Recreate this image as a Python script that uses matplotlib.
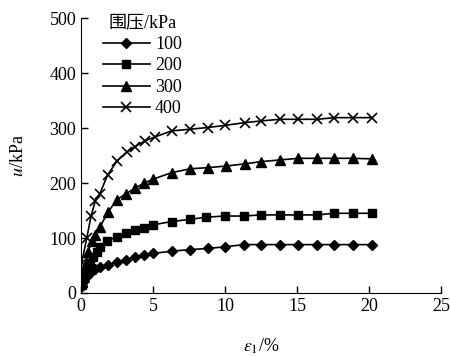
import matplotlib
matplotlib.use('Agg')
import matplotlib.pyplot as plt

plt.rcParams['font.family'] = ['Liberation Serif', 'Noto Sans CJK SC']
plt.rcParams['mathtext.fontset'] = 'stix'

# 围压 100 kPa
x100 = [0.05, 0.2, 0.4, 0.65, 0.97, 1.3, 1.9, 2.5, 3.1, 3.75, 4.4, 5.0, 6.3, 7.6,
        8.8, 10.0, 11.3, 12.5, 13.8, 15.1, 16.4, 17.6, 18.9, 20.2]
y100 = [13, 22, 30, 37, 43, 47, 51, 57, 60, 66, 69, 72, 76, 79,
        81, 84, 88, 88, 88, 88, 88, 88, 88, 88]
# 围压 200 kPa
x200 = [0.05, 0.2, 0.4, 0.6, 0.85, 1.1, 1.35, 1.8, 2.5, 3.1, 3.75, 4.4, 5.0, 6.3,
        7.6, 8.7, 10.0, 11.3, 12.5, 13.8, 15.1, 16.4, 17.6, 18.9, 20.2]
y200 = [15, 30, 45, 55, 65, 75, 84, 95, 102, 110, 115, 118, 124, 130,
        134, 138, 140, 140, 142, 142, 142, 142, 145, 145, 145]
# 围压 300 kPa
x300 = [0.05, 0.3, 0.5, 0.75, 1.0, 1.3, 1.9, 2.5, 3.1, 3.75, 4.4, 5.0, 6.3, 7.6,
        8.8, 10.1, 11.4, 12.5, 13.8, 15.1, 16.4, 17.6, 18.9, 20.2]
y300 = [20, 50, 75, 95, 105, 120, 148, 170, 180, 191, 200, 207, 219, 226,
        228, 231, 235, 239, 242, 245, 245, 245, 245, 244]
# 围压 400 kPa
x400 = [0.05, 0.4, 0.7, 1.0, 1.3, 1.85, 2.5, 3.2, 3.75, 4.45, 5.15, 6.3, 7.6,
        8.8, 10.0, 11.4, 12.5, 13.8, 15.1, 16.4, 17.6, 18.9, 20.2]
y400 = [55, 100, 140, 168, 180, 215, 240, 257, 266, 277, 284, 295, 298,
        301, 305, 310, 313, 316, 316, 316, 319, 319, 319]

fig = plt.figure(figsize=(4.5, 3.56), dpi=100)
ax = fig.add_axes([0.18, 0.177, 0.80, 0.772])

ax.plot(x100, y100, color='black', lw=1.2, marker='D', ms=5, label='100')
ax.plot(x200, y200, color='black', lw=1.2, marker='s', ms=5.5, label='200')
ax.plot(x300, y300, color='black', lw=1.2, marker='^', ms=6.5, label='300')
ax.plot(x400, y400, color='black', lw=1.2, marker='x', ms=7, mew=1.2, label='400')

ax.set_xlim(0, 25)
ax.set_ylim(0, 500)
ax.set_xticks([0, 5, 10, 15, 20, 25])
ax.set_yticks([0, 100, 200, 300, 400, 500])
ax.tick_params(direction='in', labelsize=13, length=5, width=1)
ax.spines['top'].set_visible(False)
ax.spines['right'].set_visible(False)

ax.set_xlabel(r'$\varepsilon_1$/%', fontsize=13, labelpad=16)
ax.set_ylabel(r'$u$/kPa', fontsize=13, labelpad=16)

leg = ax.legend(loc='upper left', bbox_to_anchor=(0.04, 1.04), frameon=False,
                title='围压/kPa', fontsize=13, title_fontsize=13,
                handlelength=2.6, handletextpad=0.3, labelspacing=0.25,
                borderaxespad=0)

fig.savefig('out.png', dpi=100)
